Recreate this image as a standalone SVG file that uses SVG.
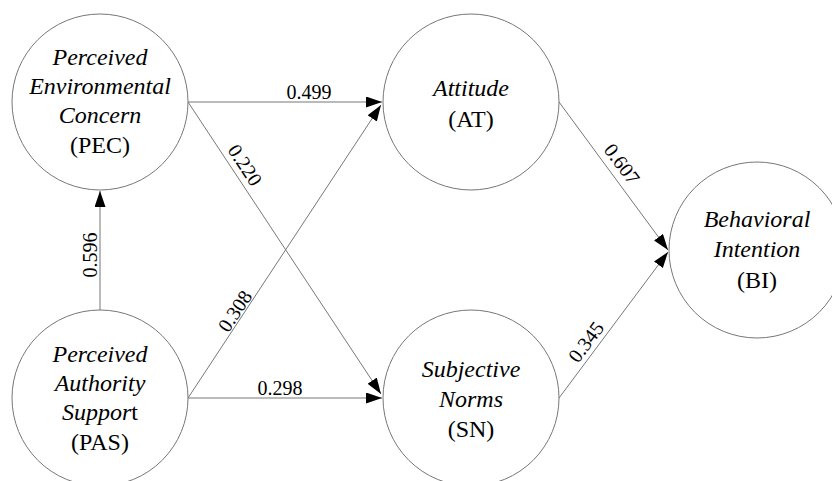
<svg xmlns="http://www.w3.org/2000/svg" width="832" height="481" viewBox="0 0 832 481">
<style>
.node{fill:#fff;stroke:#777;stroke-width:1}
.t{font-family:"Liberation Serif","Times New Roman",serif;font-size:24px;fill:#000;text-anchor:middle}
.i{font-style:italic}
.edge{stroke:#777;stroke-width:1;fill:none;marker-end:url(#arr)}
.lbl{font-family:"Liberation Serif","Times New Roman",serif;font-size:20px;fill:#000;text-anchor:middle}
</style>
<defs>
<marker id="arr" markerUnits="userSpaceOnUse" markerWidth="17" markerHeight="12" refX="16" refY="5.5" orient="auto">
<path d="M0,0 L16,5.5 L0,11 z" fill="#000"/>
</marker>
</defs>
<rect width="832" height="481" fill="#fff"/>
<g id="connectors">
<line class="edge" x1="100" y1="310" x2="100" y2="191"/>
<line class="edge" x1="188" y1="102" x2="382" y2="102"/>
<line class="edge" x1="188" y1="102" x2="381" y2="394"/>
<line class="edge" x1="188" y1="398" x2="381" y2="105"/>
<line class="edge" x1="188" y1="398" x2="382" y2="398"/>
<line class="edge" x1="559" y1="102" x2="668" y2="250"/>
<line class="edge" x1="559" y1="398" x2="668" y2="252"/>
<text class="lbl" transform="translate(97,255) rotate(-90)">0.596</text>
<text class="lbl" x="309" y="99">0.499</text>
<text class="lbl" transform="translate(239.3,168.8) rotate(56.5)">0.220</text>
<text class="lbl" transform="translate(240.7,314.8) rotate(-56.5)">0.308</text>
<text class="lbl" x="280" y="395">0.298</text>
<text class="lbl" transform="translate(616.5,168) rotate(53.4)">0.607</text>
<text class="lbl" transform="translate(591.4,346.1) rotate(-53.2)">0.345</text>
</g>
<g id="PEC">
<circle class="node" cx="100" cy="102" r="88"/>
<text class="t i" x="100" y="65">Perceived</text>
<text class="t i" x="100" y="94">Environmental</text>
<text class="t i" x="100" y="123">Concern</text>
<text class="t" x="100" y="153">(PEC)</text>
</g>
<g id="PAS">
<circle class="node" cx="100" cy="398" r="88"/>
<text class="t i" x="100" y="362">Perceived</text>
<text class="t i" x="100" y="391">Authority</text>
<text class="t" x="100" y="420"><tspan font-style="italic">Suppor</tspan>t</text>
<text class="t" x="100" y="450">(PAS)</text>
</g>
<g id="AT">
<circle class="node" cx="471" cy="102" r="88"/>
<text class="t i" x="471" y="96">Attitude</text>
<text class="t" x="471" y="127">(AT)</text>
</g>
<g id="SN">
<circle class="node" cx="471" cy="398" r="88"/>
<text class="t i" x="471" y="377">Subjective</text>
<text class="t i" x="471" y="407">Norms</text>
<text class="t" x="471" y="437">(SN)</text>
</g>
<g id="BI">
<circle class="node" cx="757" cy="250" r="88"/>
<text class="t i" x="757" y="227">Behavioral</text>
<text class="t i" x="757" y="257">Intention</text>
<text class="t" x="757" y="288">(BI)</text>
</g>
</svg>
